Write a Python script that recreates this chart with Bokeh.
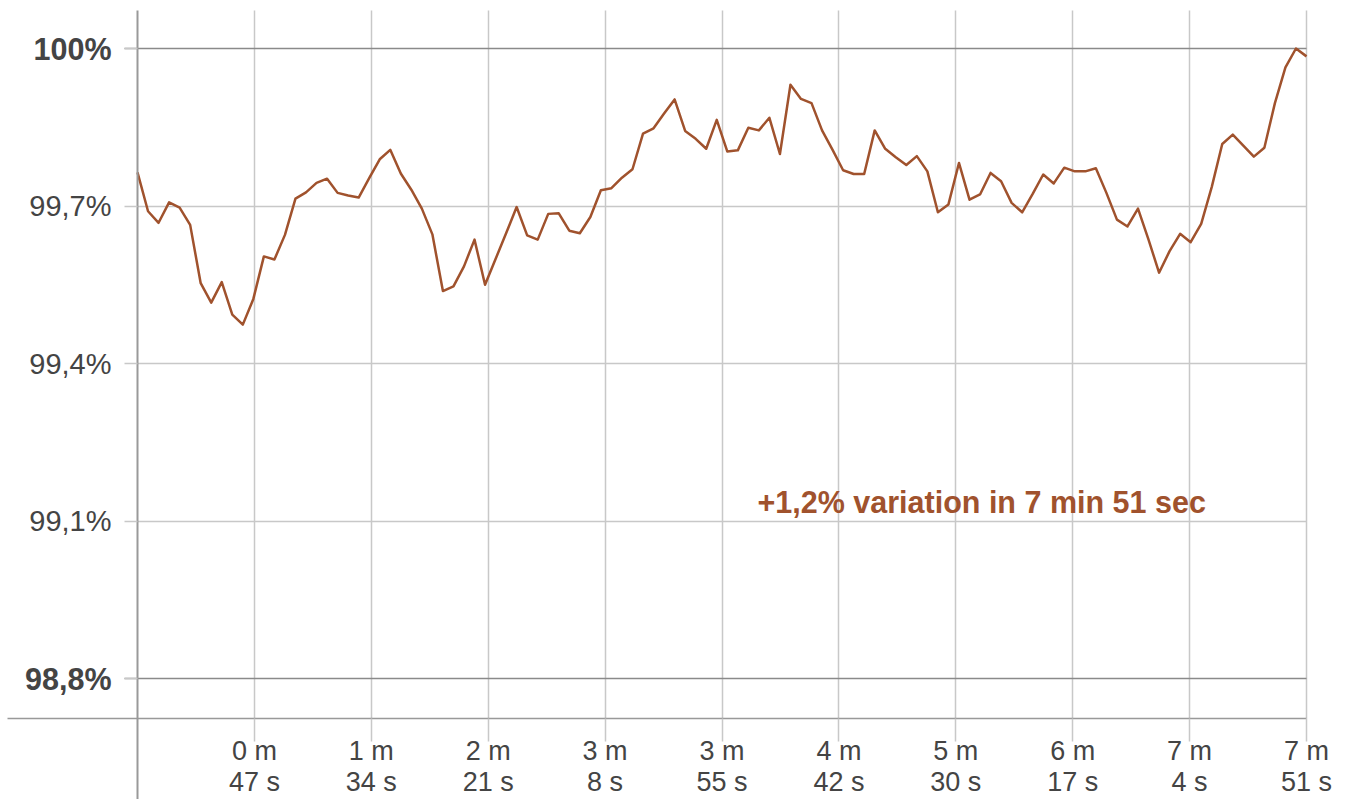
from bokeh.plotting import figure
from bokeh.models import Range1d, FixedTicker, Grid, CustomJSTickFormatter
from bokeh.core.properties import value
from bokeh.embed import file_html
from bokeh.resources import INLINE

# ---------------- data ----------------
TOTAL_SECONDS = 471
values = [
    99.764, 99.690, 99.668, 99.707, 99.697, 99.664, 99.553, 99.516, 99.555, 99.493,
    99.474, 99.523, 99.604, 99.598, 99.645, 99.714, 99.726, 99.744, 99.752, 99.725,
    99.720, 99.716, 99.753, 99.789, 99.807, 99.762, 99.731, 99.695, 99.646, 99.538,
    99.547, 99.585, 99.636, 99.550, 99.599, 99.648, 99.698, 99.644, 99.636, 99.685,
    99.686, 99.653, 99.648, 99.679, 99.730, 99.734, 99.754, 99.770, 99.838, 99.848,
    99.876, 99.903, 99.843, 99.828, 99.809, 99.864, 99.804, 99.806, 99.849, 99.844,
    99.868, 99.799, 99.931, 99.904, 99.896, 99.844, 99.807, 99.768, 99.761, 99.761,
    99.844, 99.809, 99.793, 99.778, 99.795, 99.766, 99.688, 99.703, 99.782, 99.712,
    99.722, 99.763, 99.747, 99.706, 99.688, 99.723, 99.760, 99.743, 99.773, 99.766,
    99.766, 99.772, 99.725, 99.674, 99.661, 99.695, 99.636, 99.573, 99.614, 99.647,
    99.631, 99.666, 99.736, 99.818, 99.836, 99.815, 99.794, 99.811, 99.896, 99.964,
    100.000, 99.985,
]
times = [TOTAL_SECONDS * i / (len(values) - 1) for i in range(len(values))]

x_ticks = [TOTAL_SECONDS * k / 10 for k in range(1, 11)]
x_tick_labels = ["0 m\n47 s", "1 m\n34 s", "2 m\n21 s", "3 m\n8 s", "3 m\n55 s",
                 "4 m\n42 s", "5 m\n30 s", "6 m\n17 s", "7 m\n4 s", "7 m\n51 s"]
y_ticks = [98.8, 99.1, 99.4, 99.7, 100.0]
y_tick_labels = ["98,8%", "99,1%", "99,4%", "99,7%", "100%"]
y_bold_ticks = [98.8, 100.0]
y_bold_labels = ["98,8%", "100%"]
annotation_text = "+1,2% variation in 7 min 51 sec"

# ---------------- layout (pixels of the canvas) ----------------
CANVAS_W, CANVAS_H = 1340, 799
PLOT_LEFT, PLOT_RIGHT = 137, 1306      # x=0 s ... x=471 s
PLOT_TOP, AXIS_Y = 10, 718             # top of plot area, x-axis line
Y_TOP_VAL, Y_TOP_PX = 100.0, 48        # 100 % gridline
Y_BOT_VAL, Y_BOT_PX = 98.8, 678        # 98.8 % gridline

SEC_PER_PX = TOTAL_SECONDS / (PLOT_RIGHT - PLOT_LEFT)
VAL_PER_PX = (Y_TOP_VAL - Y_BOT_VAL) / (Y_BOT_PX - Y_TOP_PX)


def px_x(px):
    return (px - PLOT_LEFT) * SEC_PER_PX


def px_y(py):
    return Y_TOP_VAL - (py - Y_TOP_PX) * VAL_PER_PX


LINE_COLOR = "#A0522D"
TEXT_COLOR = "#444444"
GRID_LIGHT = "#c8c8c8"
GRID_DARK = "#8a8a8a"
AXIS_COLOR = "#999999"
FONT = "Liberation Sans"

p = figure(frame_width=CANVAS_W, frame_height=CANVAS_H,
           x_range=Range1d(px_x(0), px_x(CANVAS_W)), y_range=Range1d(px_y(CANVAS_H), px_y(0)),
           output_backend="svg", toolbar_location=None,
           min_border_left=0, min_border_right=0, min_border_top=0, min_border_bottom=0)
p.outline_line_color = None
p.background_fill_color = "white"
p.border_fill_color = "white"

# x axis (drawn at the x-axis level inside the canvas)
p.xaxis.fixed_location = px_y(AXIS_Y)
p.xaxis.bounds = (px_x(7), TOTAL_SECONDS)
p.xaxis.ticker = FixedTicker(ticks=x_ticks)
p.xaxis.formatter = CustomJSTickFormatter(args=dict(tv=x_ticks, tl=x_tick_labels), code="""
for (let i = 0; i < tv.length; i++) { if (Math.abs(tv[i] - tick) < 1e-6) return tl[i]; }
return "";
""")
p.xaxis.axis_line_color = AXIS_COLOR
p.xaxis.axis_line_width = 1.5
p.xaxis.major_tick_line_color = GRID_LIGHT
p.xaxis.major_tick_line_width = 1.5
p.xaxis.major_tick_out = 23
p.xaxis.major_tick_in = 0
p.xaxis.minor_tick_line_color = None
p.xaxis.major_label_standoff = -6
p.xaxis.major_label_text_font = FONT
p.xaxis.major_label_text_font_size = "27px"
p.xaxis.major_label_text_color = TEXT_COLOR
p.xaxis.major_label_text_line_height = 1.06

# y axis
p.yaxis.fixed_location = 0
p.yaxis.bounds = (px_y(CANVAS_H), px_y(PLOT_TOP))
p.yaxis.ticker = FixedTicker(ticks=y_ticks)
p.yaxis.formatter = CustomJSTickFormatter(args=dict(tv=y_ticks, tl=y_tick_labels, bold=y_bold_ticks), code="""
for (let j = 0; j < bold.length; j++) { if (Math.abs(bold[j] - tick) < 1e-6) return ""; }
for (let i = 0; i < tv.length; i++) { if (Math.abs(tv[i] - tick) < 1e-6) return tl[i]; }
return "";
""")
p.yaxis.axis_line_color = AXIS_COLOR
p.yaxis.axis_line_width = 2
p.yaxis.major_tick_line_color = GRID_LIGHT
p.yaxis.major_tick_line_width = 1.5
p.yaxis.major_tick_out = 13
p.yaxis.major_tick_in = 0
p.yaxis.minor_tick_line_color = None
p.yaxis.major_label_standoff = 13
p.yaxis.major_label_text_font = FONT
p.yaxis.major_label_text_font_size = "29px"
p.yaxis.major_label_text_color = TEXT_COLOR

# grids
p.xgrid.ticker = FixedTicker(ticks=x_ticks)
p.xgrid.cross_bounds = (px_y(AXIS_Y), px_y(PLOT_TOP))
p.xgrid.grid_line_color = GRID_LIGHT
p.xgrid.grid_line_width = 1.5
p.ygrid.ticker = FixedTicker(ticks=[t for t in y_ticks if t not in y_bold_ticks])
p.ygrid.cross_bounds = (0, TOTAL_SECONDS)
p.ygrid.grid_line_color = GRID_LIGHT
p.ygrid.grid_line_width = 1.5
p.add_layout(Grid(dimension=1, ticker=FixedTicker(ticks=y_bold_ticks),
                  cross_bounds=(px_x(PLOT_LEFT - 13), TOTAL_SECONDS),
                  grid_line_color=GRID_DARK, grid_line_width=1.5))

# bold y labels
p.text(x=[0] * len(y_bold_ticks), y=y_bold_ticks, text=y_bold_labels, x_offset=-26,
       text_align="right", text_baseline="middle", text_font=value(FONT),
       text_font_style="bold", text_font_size="30.5px", text_color=TEXT_COLOR)

# data line
p.line(times, values, line_color=LINE_COLOR, line_width=2.5, line_join="round")

# annotation
p.text(x=[px_x(757)], y=[px_y(501.7)], text=[annotation_text],
       text_align="left", text_baseline="middle", text_font=value(FONT),
       text_font_style="bold", text_font_size="30.5px", text_color=LINE_COLOR)

open("out.html", "w").write(file_html(p, INLINE))
